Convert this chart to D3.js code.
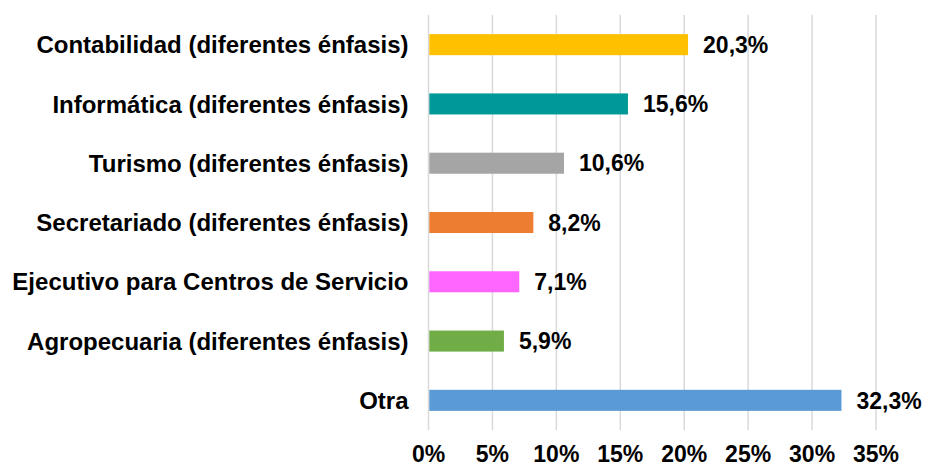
<!DOCTYPE html>
<html>
<head>
<meta charset="utf-8">
<script src="https://cdn.jsdelivr.net/npm/d3@7"></script>
<style>
  body { margin: 0; background: #fff; }
  text { font-family: "Liberation Sans", Arial, sans-serif; font-weight: bold; fill: #000; }
</style>
</head>
<body>
<div id="chart-container"></div>
<script>
const categories = [
  "Contabilidad (diferentes énfasis)",
  "Informática (diferentes énfasis)",
  "Turismo (diferentes énfasis)",
  "Secretariado (diferentes énfasis)",
  "Ejecutivo para Centros de Servicio",
  "Agropecuaria (diferentes énfasis)",
  "Otra"
];
const values = [20.3, 15.6, 10.6, 8.2, 7.1, 5.9, 32.3];
const colors = ["#FFC000", "#009999", "#A5A5A5", "#ED7D31", "#FF66FF", "#70AD47", "#5B9BD5"];
const ticks = [0, 5, 10, 15, 20, 25, 30, 35];

const W = 930, H = 468;
const margin = { top: 15, right: 54, bottom: 38, left: 428.5 };
const width = W - margin.left - margin.right;
const height = H - margin.top - margin.bottom;

const svg = d3.select("#chart-container")
  .append("svg")
  .attr("width", W)
  .attr("height", H)
  .append("g")
  .attr("transform", `translate(${margin.left},${margin.top})`);

const x = d3.scaleLinear().domain([0, 35]).range([0, 447.5]);
const y = d3.scaleBand().domain(categories).range([0, height]).paddingInner(0.645).paddingOuter(0.3225);

const fmt = v => v.toFixed(1).replace(".", ",") + "%";

// Gridlines
svg.selectAll(".grid")
  .data(ticks)
  .enter().append("line")
  .attr("x1", d => x(d))
  .attr("x2", d => x(d))
  .attr("y1", 0)
  .attr("y2", height)
  .attr("stroke", "#d9d9d9")
  .attr("stroke-width", 1.5);

// Bars
svg.selectAll(".bar")
  .data(values)
  .enter().append("rect")
  .attr("x", x(0) + 0.8)
  .attr("y", (d, i) => y(categories[i]))
  .attr("width", d => x(d) - x(0) - 0.8)
  .attr("height", y.bandwidth())
  .attr("fill", (d, i) => colors[i]);

// Value labels
svg.selectAll(".bar-label")
  .data(values)
  .enter().append("text")
  .attr("x", d => x(d) + 15)
  .attr("y", (d, i) => y(categories[i]) + y.bandwidth() / 2)
  .attr("dy", "0.36em")
  .style("font-size", "23px")
  .text(d => fmt(d));

// Category labels
svg.selectAll(".cat-label")
  .data(categories)
  .enter().append("text")
  .attr("x", -20)
  .attr("y", d => y(d) + y.bandwidth() / 2)
  .attr("dy", "0.36em")
  .attr("text-anchor", "end")
  .style("font-size", "24px")
  .text(d => d);

// X tick labels
svg.selectAll(".tick-label")
  .data(ticks)
  .enter().append("text")
  .attr("x", d => x(d))
  .attr("y", height + 32)
  .attr("text-anchor", "middle")
  .style("font-size", "23px")
  .text(d => d + "%");
</script>
</body>
</html>
